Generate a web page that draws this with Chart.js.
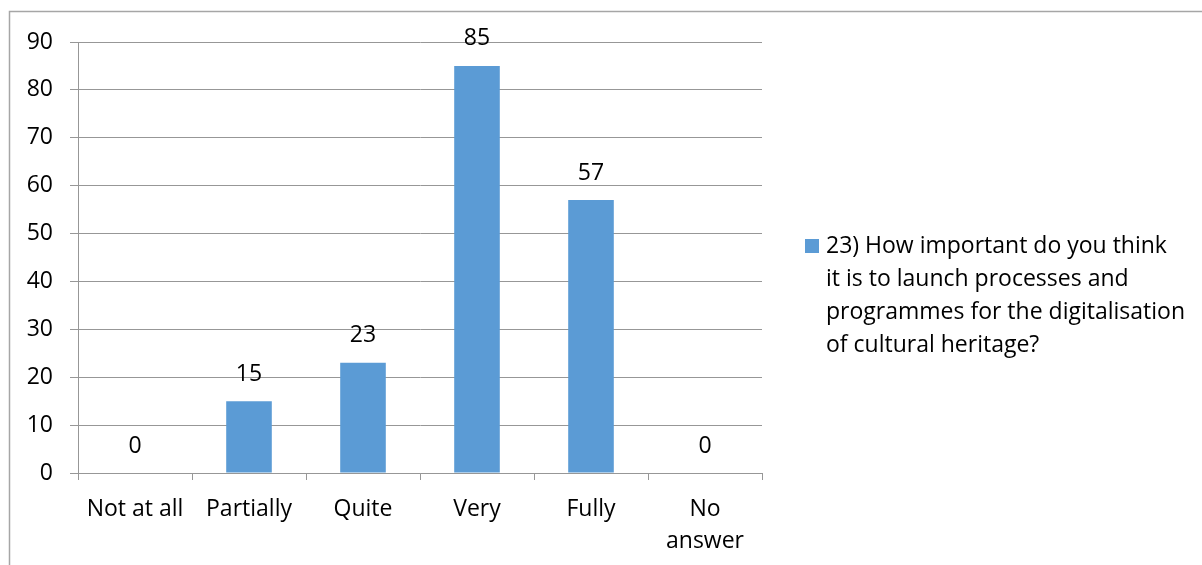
<!DOCTYPE html>
<html>
<head>
<meta charset="utf-8">
<script src="https://cdn.jsdelivr.net/npm/chart.js@4/dist/chart.umd.min.js"></script>
<style>
  html, body { margin: 0; padding: 0; background: #ffffff; }
  #wrap { position: relative; width: 1202px; height: 565px; }
  canvas { display: block; }
</style>
</head>
<body>
<div id="wrap"><canvas id="c" width="1202" height="565"></canvas></div>
<script>
// ---- data ----
const categories = ['Not at all', 'Partially', 'Quite', 'Very', 'Fully', ['No', 'answer']];
const values = [0, 15, 23, 85, 57, 0];
const seriesLabelLines = [
  '23) How important do you think',
  'it is to launch processes and',
  'programmes for the digitalisation',
  'of cultural heritage?'
];
const seriesLabel = seriesLabelLines.join(' ');
const yMin = 0, yMax = 90, yStep = 10;

// ---- styles ----
const FONT = "'Open Sans', 'Liberation Sans', sans-serif";
const FSIZE = 23;
const BAR = '#5b9bd5';
const GRID = '#979797';
const TEXT = '#000000';

const frame = {
  id: 'frame',
  beforeDraw(chart) {
    const ctx = chart.ctx;
    ctx.save();
    ctx.fillStyle = '#ffffff';
    ctx.fillRect(0, 0, chart.width, chart.height);
    ctx.strokeStyle = '#a6a6a6';
    ctx.lineWidth = 1.5;
    ctx.beginPath();
    ctx.moveTo(9.5, chart.height + 5);
    ctx.lineTo(9.5, 11.5);
    ctx.lineTo(chart.width + 5, 11.5);
    ctx.stroke();
    ctx.restore();
  }
};

const valueLabels = {
  id: 'valueLabels',
  afterDatasetsDraw(chart) {
    const ctx = chart.ctx;
    const meta = chart.getDatasetMeta(0);
    ctx.save();
    ctx.font = FSIZE + 'px ' + FONT;
    ctx.fillStyle = TEXT;
    ctx.textAlign = 'center';
    ctx.textBaseline = 'middle';
    meta.data.forEach((bar, i) => {
      ctx.fillText(String(chart.data.datasets[0].data[i]), bar.x, bar.y - 27);
    });
    ctx.restore();
  }
};

const sideLegend = {
  id: 'sideLegend',
  afterDraw(chart) {
    const ctx = chart.ctx;
    const ca = chart.chartArea;
    const x0 = ca.right + 43;
    const y0 = 246;
    const lh = 33;
    ctx.save();
    ctx.fillStyle = chart.data.datasets[0].backgroundColor;
    ctx.fillRect(x0, y0 - 7, 14, 14);
    ctx.font = FSIZE + 'px ' + FONT;
    ctx.fillStyle = TEXT;
    ctx.textAlign = 'left';
    ctx.textBaseline = 'middle';
    seriesLabelLines.forEach((line, i) => {
      ctx.fillText(line, x0 + 21, y0 + i * lh);
    });
    ctx.restore();
  }
};

new Chart(document.getElementById('c'), {
  type: 'bar',
  data: {
    labels: categories,
    datasets: [{
      label: seriesLabel,
      data: values,
      backgroundColor: BAR,
      borderWidth: 0,
      categoryPercentage: 1.0,
      barPercentage: 0.4
    }]
  },
  options: {
    responsive: false,
    animation: false,
    devicePixelRatio: 1,
    layout: { padding: { left: 0, top: 42, right: 440, bottom: 0 } },
    plugins: {
      legend: { display: false },
      tooltip: { enabled: false }
    },
    scales: {
      x: {
        offset: true,
        grid: {
          offset: true,
          drawOnChartArea: false,
          drawTicks: true,
          tickLength: 7,
          color: GRID,
          lineWidth: 1
        },
        border: { display: true, color: GRID, width: 1 },
        ticks: {
          color: TEXT,
          font: { family: FONT, size: FSIZE, lineHeight: 1.38 },
          padding: 14,
          maxRotation: 0,
          autoSkip: false
        },
        afterFit(scale) { scale.height = 92; }
      },
      y: {
        min: yMin,
        max: yMax,
        grid: {
          drawOnChartArea: true,
          drawTicks: true,
          tickLength: 8,
          color: GRID,
          lineWidth: 1
        },
        border: { display: true, color: GRID, width: 1 },
        ticks: {
          stepSize: yStep,
          color: TEXT,
          font: { family: FONT, size: FSIZE },
          padding: 17
        },
        afterFit(scale) { scale.width = 78; }
      }
    }
  },
  plugins: [frame, valueLabels, sideLegend]
});
</script>
</body>
</html>
